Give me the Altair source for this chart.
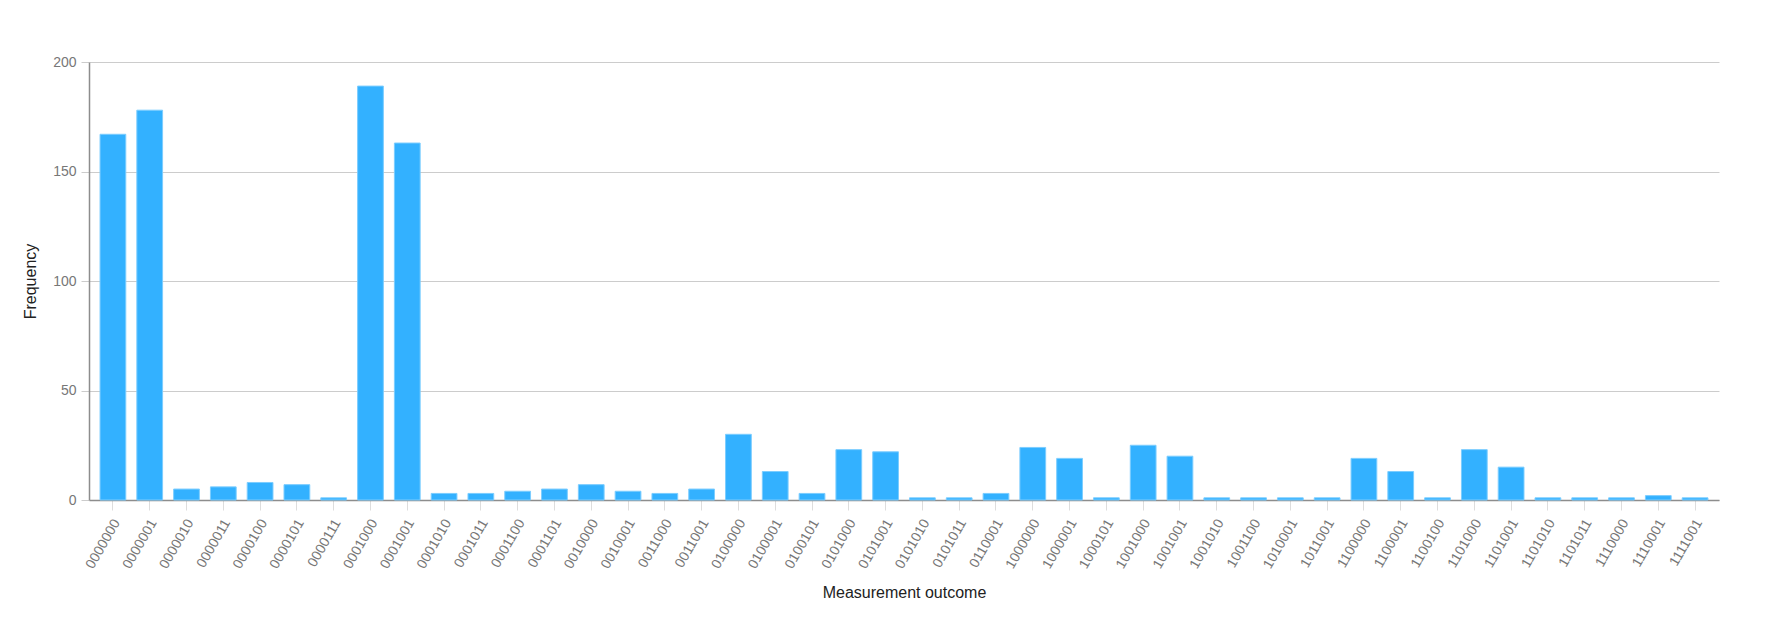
import altair as alt
import pandas as pd

outcomes = [
    "0000000", "0000001", "0000010", "0000011", "0000100", "0000101", "0000111",
    "0001000", "0001001", "0001010", "0001011", "0001100", "0001101", "0010000",
    "0010001", "0011000", "0011001", "0100000", "0100001", "0100101", "0101000",
    "0101001", "0101010", "0101011", "0110001", "1000000", "1000001", "1000101",
    "1001000", "1001001", "1001010", "1001100", "1010001", "1011001", "1100000",
    "1100001", "1100100", "1101000", "1101001", "1101010", "1101011", "1110000",
    "1110001", "1111001",
]
frequencies = [
    167, 178, 5, 6, 8, 7, 1,
    189, 163, 3, 3, 4, 5, 7,
    4, 3, 5, 30, 13, 3, 23,
    22, 1, 1, 3, 24, 19, 1,
    25, 20, 1, 1, 1, 1, 19,
    13, 1, 23, 15, 1, 1, 1,
    2, 1,
]
y_ticks = [0, 50, 100, 150, 200]

df = pd.DataFrame({"outcome": outcomes, "freq": frequencies})

FONT = "Liberation Sans"
W, H = 1630, 438

chart = alt.Chart(df).mark_bar(
    color="#33b1ff", stroke="#7ccdff", strokeWidth=1
).encode(
    x=alt.X(
        "outcome:N",
        sort=outcomes,
        scale=alt.Scale(paddingInner=0.3, paddingOuter=0.3),
        axis=alt.Axis(
            title="Measurement outcome",
            labelAngle=-60,
            labelFont=FONT,
            labelFontSize=14,
            labelColor="#777777",
            labelPadding=10,
            labelOffset=4,
            tickSize=10,
            tickColor="#dddddd",
            domainColor="#8d8d8d",
            domainWidth=1.5,
            grid=False,
            titleFont=FONT,
            titleFontSize=16,
            titleFontWeight="normal",
            titleColor="#222222",
            titleY=92,
            titleBaseline="middle",
        ),
    ),
    y=alt.Y(
        "freq:Q",
        scale=alt.Scale(domain=[0, 200], nice=False),
        axis=alt.Axis(
            title="Frequency",
            values=y_ticks,
            labelFont=FONT,
            labelFontSize=14,
            labelColor="#777777",
            labelPadding=5,
            tickSize=8,
            tickColor="#cccccc",
            gridColor="#cccccc",
            domainColor="#8d8d8d",
            domainWidth=1.5,
            titleFont=FONT,
            titleFontSize=16,
            titleFontWeight="normal",
            titleColor="#222222",
            titleX=-59,
            titleY=H / 2,
            titleAlign="center",
            titleBaseline="middle",
            titleAngle=-90,
        ),
    ),
).properties(
    width=W,
    height=H,
    autosize=alt.AutoSizeParams(type="none"),
    padding={"left": 81, "top": 54, "right": 20, "bottom": 110},
).configure_view(stroke=None)

chart.save("out.html", embed_options={"renderer": "svg", "actions": False})
